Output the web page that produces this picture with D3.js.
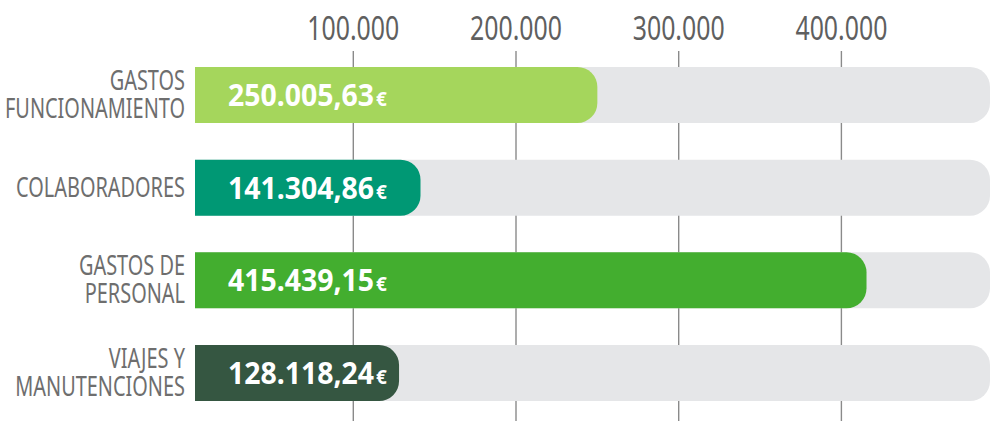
<!DOCTYPE html>
<html>
<head>
<meta charset="utf-8">
<script src="https://cdn.jsdelivr.net/npm/d3@7"></script>
<style>
  body { margin: 0; background: #ffffff; }
  svg { display: block; }
  text { font-family: "Noto Sans", "DejaVu Sans", sans-serif; }
</style>
</head>
<body>
<svg id="chart" width="991" height="421"></svg>
<script>
// chart data
var categories = [["GASTOS", "FUNCIONAMIENTO"], ["COLABORADORES"], ["GASTOS DE", "PERSONAL"], ["VIAJES Y", "MANUTENCIONES"]];
var values = [250005.63, 141304.86, 415439.15, 128118.24];
var valueLabels = ["250.005,63", "141.304,86", "415.439,15", "128.118,24"];
var barColors = ["#a5d65c", "#009874", "#43ae2f", "#355641"];
var tickValues = [100000, 200000, 300000, 400000];
var tickLabels = ["100.000", "200.000", "300.000", "400.000"];

var svg = d3.select("#chart");
var width = 991, height = 421;

// x scale: 0 sits just left of the bar start
var x = d3.scaleLinear().domain([0, 100000]).range([190.6, 353.3]);
var y = d3.scaleBand().domain(d3.range(values.length)).range([67, 401]).paddingInner(0.396).paddingOuter(0);

var barLeft = 195, trackRight = 990, radius = 20;

// rect with rounded right corners (left side square)
function roundRight(x0, y0, x1, h, r) {
    r = Math.min(r, (x1 - x0), h / 2);
    return "M" + x0 + "," + y0 +
        "H" + (x1 - r) +
        "A" + r + "," + r + " 0 0 1 " + x1 + "," + (y0 + r) +
        "V" + (y0 + h - r) +
        "A" + r + "," + r + " 0 0 1 " + (x1 - r) + "," + (y0 + h) +
        "H" + x0 + "Z";
}

// squeeze a group of texts horizontally (the original uses a narrow font)
function narrow(sel, refNode, target, ax) {
    var k = target / refNode.getComputedTextLength();
    sel.attr("transform", function() {
        var a = (typeof ax === "function") ? ax.apply(this, arguments) : ax;
        return "translate(" + a + ",0) scale(" + k + ",1) translate(" + (-a) + ",0)";
    });
}

// gridlines
svg.append("g").attr("class", "grid")
    .selectAll("line").data(tickValues).enter().append("line")
    .attr("x1", function(d) { return x(d); })
    .attr("x2", function(d) { return x(d); })
    .attr("y1", 51).attr("y2", height)
    .attr("stroke", "#8a8a8a").attr("stroke-width", 1.4);

// tick labels
var ticks = svg.append("g").attr("class", "ticks")
    .selectAll("text").data(tickValues).enter().append("text")
    .attr("x", function(d) { return x(d); })
    .attr("y", 40)
    .attr("text-anchor", "middle")
    .attr("fill", "#5f5f5f")
    .style("font-size", "33px")
    .text(function(d, i) { return tickLabels[i]; });
narrow(ticks, ticks.node(), 92, function(d) { return x(d); });

// background tracks
svg.append("g").attr("class", "tracks")
    .selectAll("path").data(values).enter().append("path")
    .attr("d", function(d, i) { return roundRight(barLeft, y(i), trackRight, y.bandwidth(), radius); })
    .attr("fill", "#e5e6e8");

// value bars
svg.append("g").attr("class", "bars")
    .selectAll("path").data(values).enter().append("path")
    .attr("d", function(d, i) { return roundRight(barLeft, y(i), x(d), y.bandwidth(), radius); })
    .attr("fill", function(d, i) { return barColors[i]; });

// value labels
var vl = svg.append("g").attr("class", "values")
    .selectAll("text").data(values).enter().append("text")
    .attr("x", 228)
    .attr("y", function(d, i) { return y(i) + y.bandwidth() / 2 + 11; })
    .attr("fill", "#ffffff")
    .style("font-size", "30px")
    .style("font-weight", "bold");
vl.append("tspan").text(function(d, i) { return valueLabels[i]; });
vl.append("tspan").attr("dx", 2).style("font-size", "20px").text("€");
narrow(vl, vl.node(), 157, 228);

// category labels
var cl = svg.append("g").attr("class", "cats")
    .selectAll("text").data(categories).enter().append("text")
    .attr("text-anchor", "end")
    .attr("fill", "#6e6e6e")
    .style("font-size", "27px");
cl.selectAll("tspan").data(function(d, i) {
        return d.map(function(s, j) { return {s: s, j: j, n: d.length, i: i}; });
    })
    .enter().append("tspan")
    .attr("x", 185)
    .attr("y", function(d) {
        var c = y(d.i) + y.bandwidth() / 2;
        return c + 9 + (d.j - (d.n - 1) / 2) * 28;
    })
    .text(function(d) { return d.s; });
// scale based on the single-line label width
narrow(cl, cl.filter(function(d, i) { return i === 1; }).node(), 169, 185);
</script>
</body>
</html>
